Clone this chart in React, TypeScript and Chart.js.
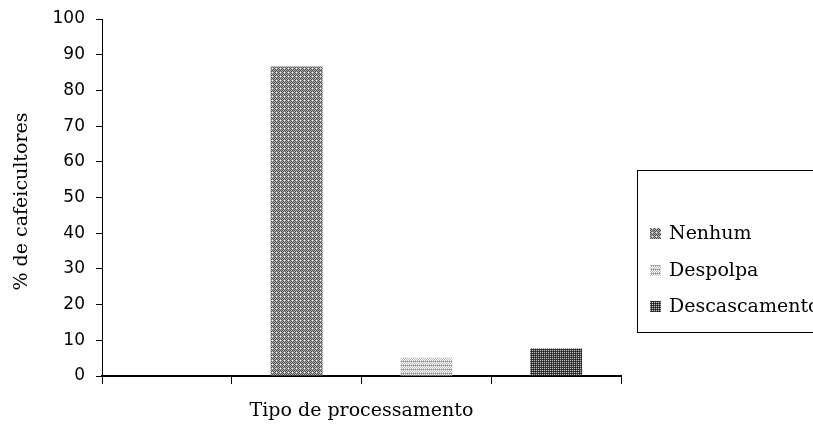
import React, { useEffect, useRef } from "react";
import { Chart, registerables } from "chart.js";

Chart.register(...registerables);

const categories = ["", "", "", ""];
const seriesNames = ["Nenhum", "Despolpa", "Descascamento"];
const nenhumValues = [null, 86.7, null, null];
const despolpaValues = [null, null, 5.1, null];
const descascamentoValues = [null, null, null, 7.7];
const yTicks = { min: 0, max: 100, step: 10 };
const yTitle = "% de cafeicultores";
const xTitle = "Tipo de processamento";

function makePattern(kind: string): CanvasPattern | string {
  const c = document.createElement("canvas");
  c.width = 8;
  c.height = 8;
  const ctx = c.getContext("2d");
  if (!ctx) return "#888";
  const img = ctx.createImageData(8, 8);
  for (let y = 0; y < 8; y++) {
    for (let x = 0; x < 8; x++) {
      let v = 0;
      const chk = (x + y) % 2 === 0;
      if (kind === "a") {
        v = chk ? 80 : 175;
        if ((x % 4 === 0 && y % 4 === 0)) v = 245;
      } else if (kind === "b") {
        v = chk ? 255 : 185;
        if (x % 2 === 1 && y % 4 === 1) v = 140;
      } else {
        v = chk ? 30 : 70;
        if (x % 2 === 0 && y % 2 === 0) v = 190;
      }
      const i = (y * 8 + x) * 4;
      img.data[i] = v;
      img.data[i + 1] = v;
      img.data[i + 2] = v;
      img.data[i + 3] = 255;
    }
  }
  ctx.putImageData(img, 0, 0);
  const main = document.createElement("canvas").getContext("2d");
  const p = main ? main.createPattern(c, "repeat") : null;
  return p || "#888";
}

export default function App() {
  const ref = useRef<HTMLCanvasElement | null>(null);
  useEffect(() => {
    document.body.style.margin = "0";
    if (!ref.current) return;
    const fills = [makePattern("a"), makePattern("b"), makePattern("c")];
    const serif = "'DejaVu Serif', serif";
    const overlay = {
      id: "overlay",
      afterDraw(chart: any) {
        const ctx = chart.ctx;
        const area = chart.chartArea;
        ctx.save();
        ctx.fillStyle = "#000";
        ctx.font = `19px ${serif}`;
        ctx.textAlign = "center";
        ctx.textBaseline = "middle";
        ctx.fillText(xTitle, (area.left + area.right) / 2, 411);
        ctx.save();
        ctx.translate(22, (area.top + area.bottom) / 2 + 4);
        ctx.rotate(-Math.PI / 2);
        ctx.fillText(yTitle, 0, 0);
        ctx.restore();
        // legend
        ctx.strokeStyle = "#000";
        ctx.lineWidth = 1;
        ctx.strokeRect(637.5, 170.5, 200, 162);
        ctx.font = `19px ${serif}`;
        ctx.textAlign = "left";
        const ys = [233, 270, 306];
        chart.data.datasets.forEach((ds: any, i: number) => {
          ctx.fillStyle = ds.backgroundColor;
          ctx.fillRect(650, ys[i] - 5, 11, 11);
          ctx.fillStyle = "#000";
          ctx.fillText(ds.label, 669, ys[i] + 1);
        });
        ctx.restore();
      },
    };
    const chart = new Chart(ref.current, {
      type: "bar",
      data: {
        labels: categories,
        datasets: [
          { label: seriesNames[0], data: nenhumValues as any, backgroundColor: fills[0] as any },
          { label: seriesNames[1], data: despolpaValues as any, backgroundColor: fills[1] as any },
          { label: seriesNames[2], data: descascamentoValues as any, backgroundColor: fills[2] as any },
        ],
      },
      plugins: [overlay],
      options: {
        animation: false,
        responsive: false,
        maintainAspectRatio: false,
        layout: { padding: { top: 19, right: 192, left: 0, bottom: 0 } },
        datasets: {
          bar: { grouped: false, barPercentage: 0.4, categoryPercentage: 1 } as any,
        },
        plugins: { legend: { display: false }, tooltip: { enabled: false } },
        scales: {
          x: {
            grid: { display: true, drawOnChartArea: false, color: "#000", tickLength: 8, offset: true },
            border: { display: true, color: "#000", width: 2 },
            ticks: { display: true, font: { size: 1 } },
            afterFit(scale: any) {
              scale.height = 54;
              scale.paddingLeft = 0;
              scale.paddingRight = 0;
            },
          },
          y: {
            min: yTicks.min,
            max: yTicks.max,
            grid: { display: true, drawOnChartArea: false, color: "#000", tickLength: 6 },
            border: { display: true, color: "#000", width: 1 },
            ticks: {
              stepSize: yTicks.step,
              color: "#000",
              padding: 11,
              font: { family: "'DejaVu Sans', sans-serif", size: 17, lineHeight: 1 },
            },
            afterFit(scale: any) {
              scale.width = 102;
              scale.paddingTop = 0;
              scale.paddingBottom = 0;
            },
          },
        },
      },
    });
    return () => chart.destroy();
  }, []);
  return (
    <div style={{ width: 813, height: 430 }}>
      <canvas ref={ref} width={813} height={430} style={{ display: "block" }} />
    </div>
  );
}
